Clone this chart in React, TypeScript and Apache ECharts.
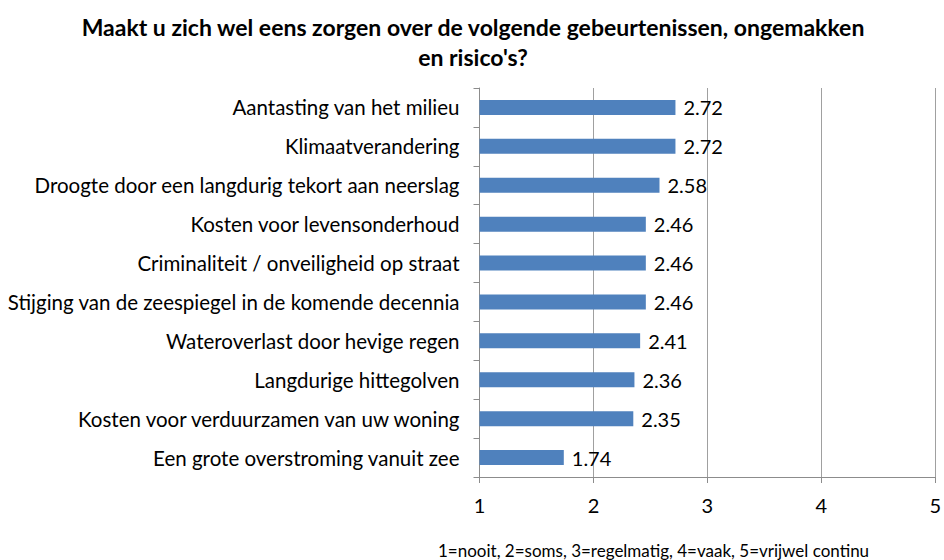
import React, { useEffect, useRef } from "react";
import * as echarts from "echarts";

const categories = [
  "Aantasting van het milieu",
  "Klimaatverandering",
  "Droogte door een langdurig tekort aan neerslag",
  "Kosten voor levensonderhoud",
  "Criminaliteit / onveiligheid op straat",
  "Stijging van de zeespiegel in de komende decennia",
  "Wateroverlast door hevige regen",
  "Langdurige hittegolven",
  "Kosten voor verduurzamen van uw woning",
  "Een grote overstroming vanuit zee",
];
const values = [2.72, 2.72, 2.58, 2.46, 2.46, 2.46, 2.41, 2.36, 2.35, 1.74];
const titleText = "Maakt u zich wel eens zorgen over de volgende gebeurtenissen, ongemakken\nen risico's?";
const footnote = "1=nooit, 2=soms, 3=regelmatig, 4=vaak, 5=vrijwel continu";

const FONT = "Lato";

export default function App() {
  const ref = useRef<HTMLDivElement>(null);
  useEffect(() => {
    if (!ref.current) return;
    const chart = echarts.init(ref.current, null, { renderer: "svg" });
    chart.setOption({
      animation: false,
      backgroundColor: "#ffffff",
      title: {
        text: titleText,
        left: 468,
        textAlign: "center",
        top: 7,
        textStyle: {
          fontFamily: FONT,
          fontSize: 23,
          fontWeight: "bold",
          color: "#000",
          lineHeight: 30,
        },
      },
      graphic: [
        {
          type: "text",
          left: 438,
          top: 542,
          style: {
            text: footnote,
            fontFamily: FONT,
            fontSize: 17,
            fill: "#000",
          },
        },
      ],
      grid: { left: 479.5, right: 6.5, top: 88, bottom: 83, containLabel: false },
      xAxis: {
        type: "value",
        min: 1,
        max: 5,
        interval: 1,
        axisLine: { show: true, lineStyle: { color: "#8c8c8c", width: 1 } },
        axisTick: { show: true, length: 6, lineStyle: { color: "#8c8c8c" } },
        axisLabel: { fontFamily: FONT, fontSize: 20, color: "#000", margin: 18 },
        splitLine: { show: true, lineStyle: { color: "#a0a0a0", width: 1 } },
      },
      yAxis: {
        type: "category",
        data: categories,
        inverse: true,
        axisLine: { show: true, lineStyle: { color: "#8c8c8c", width: 1 } },
        axisTick: { show: true, length: 6, lineStyle: { color: "#8c8c8c" } },
        axisLabel: { fontFamily: FONT, fontSize: 20.5, color: "#000", margin: 20 },
        splitLine: { show: false },
      },
      series: [
        {
          type: "bar",
          data: values,
          barWidth: 15,
          itemStyle: { color: "#4f81bd" },
          label: {
            show: true,
            position: "right",
            distance: 8,
            fontFamily: FONT,
            fontSize: 20,
            color: "#000",
            formatter: (p: any) => p.value.toFixed(2),
          },
        },
      ],
    });
    return () => chart.dispose();
  }, []);
  return (
    <div
      ref={ref}
      style={{ position: "fixed", left: 0, top: 0, width: 944, height: 560 }}
    />
  );
}
